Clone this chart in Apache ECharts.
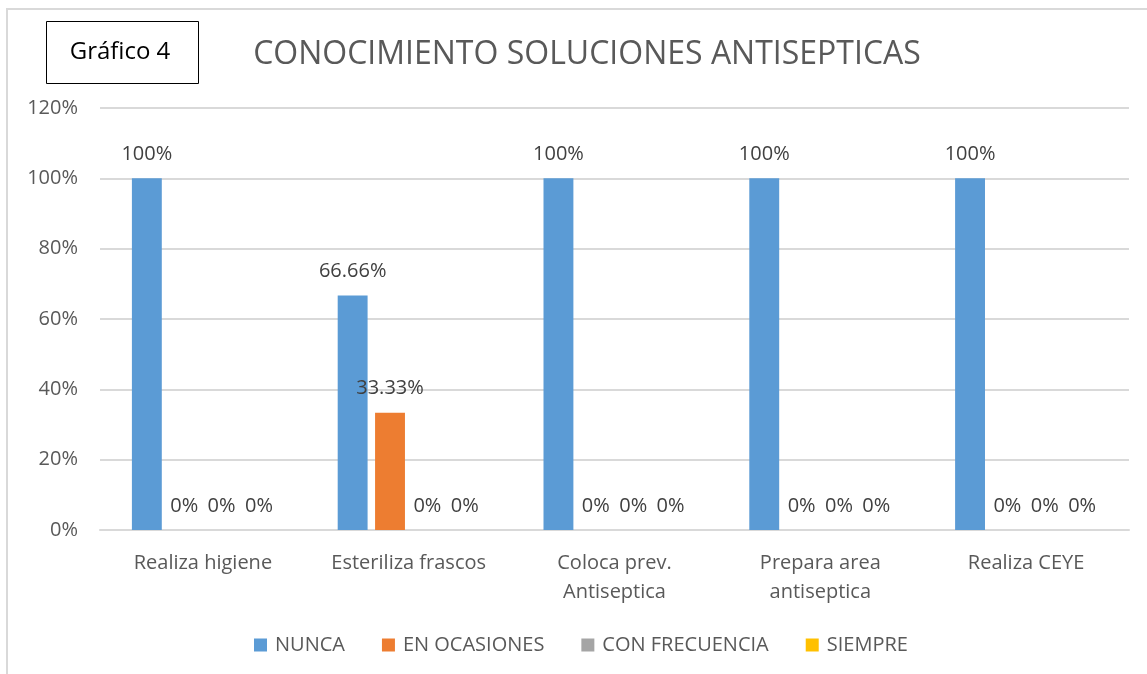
<!DOCTYPE html>
<html>
<head>
<meta charset="utf-8">
<title>Gráfico 4</title>
<script src="https://cdn.jsdelivr.net/npm/echarts@6/dist/echarts.min.js"></script>
<style>
  html, body { margin: 0; padding: 0; background: #fff; }
  #chart { width: 1147px; height: 674px; }
</style>
</head>
<body>
<div id="chart"></div>
<script>
// datos
var categorias = ['Realiza higiene', 'Esteriliza frascos', 'Coloca prev.\nAntiseptica', 'Prepara area\nantiseptica', 'Realiza CEYE'];
var nunca = [100, 66.66, 100, 100, 100];
var enOcasiones = [0, 33.33, 0, 0, 0];
var conFrecuencia = [0, 0, 0, 0, 0];
var siempre = [0, 0, 0, 0, 0];
var nombres = ['NUNCA', 'EN OCASIONES', 'CON FRECUENCIA', 'SIEMPRE'];
var colores = ['#5B9BD5', '#ED7D31', '#A5A5A5', '#FFC000'];

var fuente = '"Open Sans", "Liberation Sans", sans-serif';
var chart = echarts.init(document.getElementById('chart'));

function serie(nombre, datos) {
  return {
    name: nombre,
    type: 'bar',
    data: datos,
    barGap: '25%',
    barCategoryGap: '31%',
    label: {
      show: true,
      position: 'top',
      distance: 14,
      color: '#404040',
      fontSize: 20,
      fontFamily: fuente,
      formatter: function (p) { return p.value + '%'; }
    }
  };
}

var option = {
  color: colores,
  animation: false,
  title: {
    text: 'CONOCIMIENTO SOLUCIONES ANTISEPTICAS',
    left: 582,
    textAlign: 'center',
    top: 34,
    textStyle: { color: '#595959', fontSize: 32, fontWeight: 'normal', fontFamily: fuente }
  },
  legend: {
    data: nombres,
    bottom: 14,
    left: 249,
    itemWidth: 13,
    itemHeight: 13,
    itemGap: 37,
    icon: 'rect',
    textStyle: { color: '#595959', fontSize: 20, fontFamily: fuente, padding: [0, 0, 0, 3] }
  },
  grid: { left: 100, right: 18, top: 108, bottom: 144 },
  xAxis: {
    type: 'category',
    data: categorias,
    axisTick: { show: false },
    axisLine: { lineStyle: { color: '#D9D9D9', width: 2 } },
    axisLabel: { color: '#595959', fontSize: 20, fontFamily: fuente, margin: 19, lineHeight: 29 }
  },
  yAxis: {
    type: 'value',
    min: 0,
    max: 120,
    interval: 20,
    axisLine: { show: false },
    axisTick: { show: false },
    splitLine: { lineStyle: { color: '#D9D9D9', width: 2 } },
    axisLabel: { color: '#595959', fontSize: 20, fontFamily: fuente, margin: 22, formatter: '{value}%' }
  },
  graphic: [
    {
      type: 'rect',
      shape: { x: 7, y: 9, width: 1160, height: 700 },
      style: { fill: 'none', stroke: '#D9D9D9', lineWidth: 2 },
      silent: true
    },
    {
      type: 'rect',
      shape: { x: 46.5, y: 21.5, width: 152, height: 62 },
      style: { fill: '#fff', stroke: '#000', lineWidth: 1 },
      z: 10
    },
    {
      type: 'text',
      x: 120,
      y: 52,
      style: { text: 'Gráfico 4', fill: '#000', fontSize: 24, fontFamily: fuente, align: 'center', verticalAlign: 'middle' },
      z: 11
    }
  ],
  series: [
    serie(nombres[0], nunca),
    serie(nombres[1], enOcasiones),
    serie(nombres[2], conFrecuencia),
    serie(nombres[3], siempre)
  ]
};

chart.setOption(option);
</script>
</body>
</html>
